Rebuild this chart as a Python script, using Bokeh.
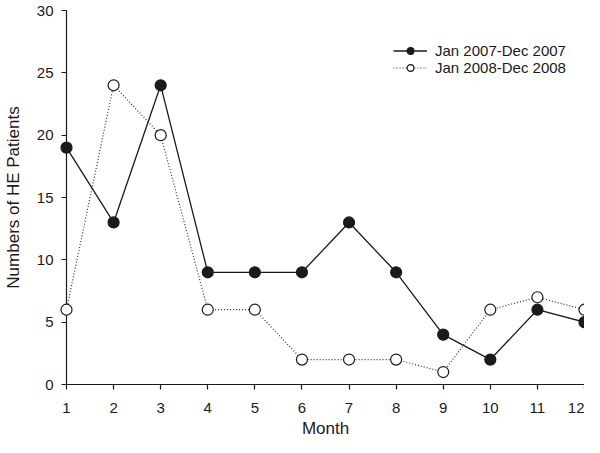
from bokeh.plotting import figure
from bokeh.models import Range1d, FixedTicker, ColumnDataSource, Legend, LegendItem
from bokeh.core.properties import value
from bokeh.embed import file_html
from bokeh.resources import INLINE

months = [1, 2, 3, 4, 5, 6, 7, 8, 9, 10, 11, 12]
patients_2007 = [19, 13, 24, 9, 9, 9, 13, 9, 4, 2, 6, 5]
patients_2008 = [6, 24, 20, 6, 6, 2, 2, 2, 1, 6, 7, 6]
label_2007 = "Jan 2007-Dec 2007"
label_2008 = "Jan 2008-Dec 2008"
x_title = "Month"
y_title = "Numbers of HE Patients"
x_ticks = months
y_ticks = [0, 5, 10, 15, 20, 25, 30]

FONT = "Liberation Sans"
INK = "#1a1a1a"

W, H = 584, 437
BL, BR, BT, BB = 62, 0, 10, 53

src = ColumnDataSource(dict(m=months, a=patients_2007, b=patients_2008))

p = figure(width=W, height=H, output_backend="svg", toolbar_location=None,
           x_range=Range1d(months[0], months[-1]), y_range=Range1d(y_ticks[0], y_ticks[-1]),
           min_border_left=BL, min_border_right=BR, min_border_top=BT, min_border_bottom=BB)
p.outline_line_color = None
p.grid.grid_line_color = None
p.background_fill_color = "white"

for ax in (p.xaxis[0], p.yaxis[0]):
    ax.axis_line_color = INK
    ax.axis_line_width = 1.2
    ax.major_tick_line_color = INK
    ax.major_tick_line_width = 1.2
    ax.major_tick_out = 5
    ax.major_tick_in = 0
    ax.minor_tick_line_color = None
    ax.major_label_text_font = FONT
    ax.major_label_text_font_size = "15px"
    ax.major_label_text_color = INK
    ax.axis_label_text_font = FONT
    ax.axis_label_text_font_style = "normal"
    ax.axis_label_text_color = INK

p.xaxis.ticker = FixedTicker(ticks=x_ticks)
p.yaxis.ticker = FixedTicker(ticks=y_ticks)
p.yaxis.axis_label = y_title
p.yaxis.axis_label_text_font_size = "17px"
p.xaxis.major_label_standoff = 13
p.yaxis.major_label_standoff = 8
p.yaxis.axis_label_standoff = 11

# x-axis title: text anchored at the middle of the month axis, offset below the tick labels
p.text(x=[(months[0] + months[-1]) / 2], y=[y_ticks[0]], text=[x_title], y_offset=44,
       text_font=value(FONT), text_font_size="17px", text_color=INK,
       text_align="center", text_baseline="middle", level="overlay")

l2 = p.line("m", "b", source=src, line_color="#333333", line_width=1.2, line_dash="1 2", level="overlay")
s2 = p.scatter("m", "b", source=src, size=11, fill_color="white", line_color=INK, line_width=1.2, level="overlay")
l1 = p.line("m", "a", source=src, line_color=INK, line_width=1.3, level="overlay")
s1 = p.scatter("m", "a", source=src, size=11, fill_color=INK, line_color=INK, line_width=1.2, level="overlay")

legend = Legend(items=[LegendItem(label=label_2007, renderers=[l1, s1]),
                       LegendItem(label=label_2008, renderers=[l2, s2])],
                location=(327, 308))
legend.border_line_color = None
legend.background_fill_alpha = 0
legend.padding = 0
legend.margin = 0
legend.spacing = 0
legend.glyph_width = 34
legend.glyph_height = 17
legend.label_height = 17
legend.label_standoff = 8
legend.label_text_font = FONT
legend.label_text_font_size = "15px"
legend.label_text_color = INK
p.add_layout(legend, "center")

open("out.html", "w").write(file_html(p, INLINE))
